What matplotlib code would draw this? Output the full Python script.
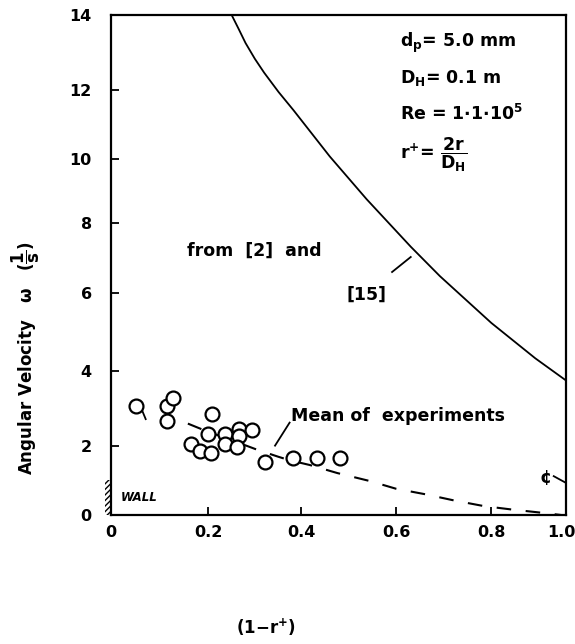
import numpy as np
import matplotlib
matplotlib.use("Agg")
import matplotlib.pyplot as plt
from matplotlib.patches import Rectangle
from matplotlib.transforms import ScaledTranslation

plt.rcParams['font.family'] = ['DejaVu Sans']
plt.rcParams['font.weight'] = 'bold'
plt.rcParams['mathtext.fontset'] = 'custom'
plt.rcParams['mathtext.rm'] = 'DejaVu Sans:bold'
plt.rcParams['mathtext.it'] = 'DejaVu Sans:bold'
plt.rcParams['mathtext.bf'] = 'DejaVu Sans:bold'
plt.rcParams['mathtext.default'] = 'rm'

# measured experiments
exp_x = [0.052, 0.115, 0.128, 0.115, 0.208, 0.164, 0.183, 0.206, 0.199, 0.235,
         0.236, 0.266, 0.266, 0.262, 0.293, 0.321, 0.383, 0.433, 0.482]
exp_y = [3.05, 3.05, 3.28, 2.66, 2.86, 2.05, 1.84, 1.79, 2.30, 2.30,
         2.05, 2.44, 2.27, 1.97, 2.42, 1.53, 1.65, 1.65, 1.65]

# curve from [2] and [15]
theory_x = [0.25, 0.265, 0.28, 0.30, 0.32, 0.351, 0.383, 0.46, 0.538, 0.631,
            0.692, 0.8, 0.917, 1.0]
theory_y = [14.0, 13.63, 13.25, 12.83, 12.46, 11.94, 11.41, 10.06, 8.73, 7.32,
            6.49, 5.24, 4.33, 3.74]

# mean of experiments (dashed)
mean_x = [0.158, 0.19, 0.281, 0.303, 0.35, 0.374, 0.418, 0.476, 0.545, 0.6,
          0.662, 0.723, 0.785, 0.857, 0.935, 0.99]
mean_y = [2.59, 2.42, 2.0, 1.89, 1.68, 1.58, 1.44, 1.21, 0.98, 0.76,
          0.6, 0.42, 0.26, 0.16, 0.07, 0.0]

xticks = [0, 0.2, 0.4, 0.6, 0.8, 1.0]
xtick_labels = ['0', '0.2', '0.4', '0.6', '0.8', '1.0']
yticks = [0, 2, 4, 6, 8, 10, 12, 14]

# hand drawn axes: tick marks are not evenly spaced
xt_frac = [0, 0.2134, 0.4179, 0.6256, 0.8350, 1.0]
yt_frac = [0, 0.1392, 0.2879, 0.4432, 0.5846, 0.7128, 0.8498, 1.0]


def xfwd(v):
    return np.interp(v, xticks, xt_frac)


def xinv(v):
    return np.interp(v, xt_frac, xticks)


def yfwd(v):
    return np.interp(v, yticks, yt_frac)


def yinv(v):
    return np.interp(v, yt_frac, yticks)


fig = plt.figure(figsize=(5.75, 6.44), dpi=100)
ax = fig.add_axes([0.1932, 0.2, 0.792, 0.777])
ax.set_xscale('function', functions=(xfwd, xinv))
ax.set_yscale('function', functions=(yfwd, yinv))
ax.set_xlim(0, 1.0)
ax.set_ylim(0, 14)

ax.plot(theory_x, theory_y, color='black', lw=1.3, zorder=2)
ax.plot(mean_x, mean_y, color='black', lw=1.5, dashes=(7, 7), zorder=2)
ax.plot(exp_x, exp_y, 'o', ms=10, mfc='white', mec='black', mew=1.6, zorder=3)

for s in ax.spines.values():
    s.set_linewidth(1.6)

ax.set_xticks(xticks)
ax.set_xticklabels(xtick_labels)
ax.set_yticks(yticks)
ax.set_yticklabels([str(t) for t in yticks])
ax.xaxis.set_minor_locator(plt.NullLocator())
ax.yaxis.set_minor_locator(plt.NullLocator())
ax.tick_params(axis='both', direction='in', length=6, width=1.3, labelsize=11.5)
ax.tick_params(axis='x', pad=7)
ax.tick_params(axis='y', pad=14)

# last x label sits against the right edge
last = ax.get_xticklabels()[-1]
last.set_horizontalalignment('right')
last.set_transform(last.get_transform() + ScaledTranslation(9 / 100, 0, fig.dpi_scale_trans))

# wall hatching
ax.add_patch(Rectangle((-0.014, 0.0), 0.014, 0.07, transform=ax.transAxes,
                       hatch='//////', fill=False, lw=0, clip_on=False))
ax.text(0.022, 0.036, 'WALL', transform=ax.transAxes, fontsize=8.5,
        style='italic', va='center')

# labels on the curves
ax.text(0.167, 0.529, 'from  [2]  and', transform=ax.transAxes, fontsize=12.5,
        va='center')
ax.text(0.517, 0.44, '[15]', transform=ax.transAxes, fontsize=12.5, va='center')
ax.plot([0.617, 0.658], [0.486, 0.516], transform=ax.transAxes, color='black', lw=1.3)
ax.text(0.396, 0.198, 'Mean of  experiments', transform=ax.transAxes,
        fontsize=12.5, va='center')
ax.plot([0.360, 0.392], [0.139, 0.185], transform=ax.transAxes, color='black', lw=1.3)
ax.plot([0.066, 0.076], [0.214, 0.192], transform=ax.transAxes, color='black', lw=1.3)
ax.text(0.955, 0.074, '¢', transform=ax.transAxes, fontsize=12.5,
        ha='center', va='center')
ax.plot([0.972, 1.0], [0.078, 0.064], transform=ax.transAxes, color='black', lw=1.3)

# parameters
ax.text(0.634, 0.944, r'd$_{p}$= 5.0 mm', transform=ax.transAxes, fontsize=12.5,
        va='center')
ax.text(0.634, 0.874, r'D$_{H}$= 0.1 m', transform=ax.transAxes, fontsize=12.5,
        va='center')
ax.text(0.634, 0.802, r'Re = 1$\cdot$1$\cdot$10$^{5}$', transform=ax.transAxes,
        fontsize=12.5, va='center')
ax.text(0.634, 0.72, r'r$^{+}$= $\dfrac{2r}{D_{H}}$', transform=ax.transAxes,
        fontsize=12.5, va='center')

fig.text(26 / 575, 1 - 358 / 644, r'Angular Velocity   $\omega$   ($\dfrac{1}{s}$)',
         rotation=90, ha='center', va='center', fontsize=12)
fig.text(266 / 575, 1 - 627 / 644, r'(1$-$r$^{+}$)', ha='center', va='center',
         fontsize=12)

fig.savefig('out.png', dpi=100)
